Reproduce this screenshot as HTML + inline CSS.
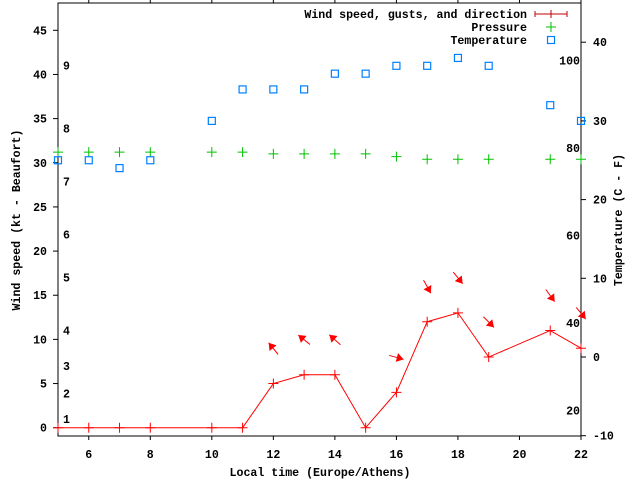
<!DOCTYPE html>
<html><head><meta charset="utf-8"><style>
html,body{margin:0;padding:0;background:#fff;}
svg{display:block;font-family:"Liberation Mono","DejaVu Sans Mono",monospace;font-size:11.6px;font-weight:bold;}
</style></head><body>
<svg id="chart" width="640" height="480" viewBox="0 0 640 480" xmlns="http://www.w3.org/2000/svg">
<rect x="0" y="0" width="640" height="480" fill="#fff"/>
<g id="axes"></g><g id="marks"></g><g id="legend"></g>
</svg>
<script>
const hours = [5,6,7,8,10,11,12,13,14,15,16,17,18,19,21,22];
const windKt = [0,0,0,0,0,0,5,6,6,0,4,12,13,8,11,9];
const windFromDeg = [null,null,null,null,null,null,141,129,132,null,285,331,321,315,324,321];
const pressure = [31.2,31.2,31.2,31.2,31.2,31.2,31.0,31.0,31.0,31.0,30.7,30.4,30.4,30.4,30.4,30.4];
const tempC = [25,25,24,25,30,34,34,34,36,36,37,37,38,37,32,30];
const xTicks = [6,8,10,12,14,16,18,20,22];
const yTicks = [0,5,10,15,20,25,30,35,40,45];
const tTicks = [-10,0,10,20,30,40];
const fTicks = [20,40,60,80,100];
const bftLabels = [1,2,3,4,5,6,7,8,9];
const bftKt = [1,3.9,7,11,17,21.9,27.9,33.9,41];

const NS="http://www.w3.org/2000/svg";
const L=58,R=581,T=3,B=436;
const X=h=>L+(h-5)*(R-L)/17;
const Y=v=>427.7-v*(427.7-30.3)/45;
const TY=c=>357-c*7.87;
const FY=f=>TY((f-32)*5/9);
function mk(tag,attrs,parent,text){const e=document.createElementNS(NS,tag);for(const k in attrs)e.setAttribute(k,attrs[k]);if(text!==undefined)e.textContent=text;parent.appendChild(e);return e;}
const axes=document.getElementById('axes'),marks=document.getElementById('marks'),legend=document.getElementById('legend');

let f=mk('rect',{x:L,y:T,width:R-L,height:B-T,fill:'none',stroke:'#000','stroke-width':1},axes);


xTicks.forEach(h=>{
  mk('line',{x1:X(h),x2:X(h),y1:B,y2:B+4,stroke:'#000'},axes);
  mk('line',{x1:X(h),x2:X(h),y1:T,y2:T-4,stroke:'#000'},axes);
  const t=mk('text',{x:X(h),y:458,'text-anchor':'middle'},axes,String(h));
  
  
});
yTicks.forEach(v=>{
  mk('line',{x1:L-5,x2:L,y1:Y(v),y2:Y(v),stroke:'#000'},axes);
  const t=mk('text',{x:47,y:Y(v)+4,'text-anchor':'end'},axes,String(v));
  
  
});
tTicks.forEach(v=>{
  mk('line',{x1:R,x2:R+5,y1:TY(v),y2:TY(v),stroke:'#000'},axes);
  const t=mk('text',{x:593,y:TY(v)+4,'text-anchor':'start'},axes,String(v));
  
  
});
fTicks.forEach(v=>{
  const t=mk('text',{x:580,y:FY(v)+5,'text-anchor':'end'},axes,String(v));
  
  
});
bftLabels.forEach((b,i)=>{
  const t=mk('text',{x:63,y:Y(bftKt[i])+4},axes,String(b));
  
  
});
let t=mk('text',{x:320,y:476,'text-anchor':'middle'},axes,'Local time (Europe/Athens)');


t=mk('text',{x:0,y:0,'text-anchor':'middle',transform:'translate(20,220) rotate(-90)'},axes,'Wind speed (kt - Beaufort)');


t=mk('text',{x:0,y:0,'text-anchor':'middle',transform:'translate(622,220) rotate(-90)'},axes,'Temperature (C - F)');



const pts=hours.map((h,i)=>X(h)+','+Y(windKt[i])).join(' ');
let pl=mk('polyline',{points:pts,fill:'none',stroke:'#f00','stroke-width':1},marks);


hours.forEach((h,i)=>{
  const x=X(h),y=Y(windKt[i]);
  const p=mk('path',{d:`M${x-5},${y}H${x+5}M${x},${y-5}V${y+5}`,stroke:'#f00'},marks);
  
  
  if(windFromDeg[i]!==null){
    const b=(windFromDeg[i]+180)*Math.PI/180;
    const dx=Math.sin(b),dy=-Math.cos(b);
    const cx=x,cy=y-35,len=15;
    const x1=cx-dx*len/2,y1=cy-dy*len/2,x2=cx+dx*len/2,y2=cy+dy*len/2;
    const g=mk('g',{},marks);
    
    
    mk('line',{x1:x1,y1:y1,x2:x2,y2:y2,stroke:'#f00'},g);
    const px=-dy,py=dx,hl=7,hw=4.5;
    const bx=x2-dx*hl,by=y2-dy*hl;
    mk('polygon',{points:`${x2},${y2} ${bx+px*hw},${by+py*hw} ${bx-px*hw},${by-py*hw}`,fill:'#f00'},g);
  }
});
hours.forEach((h,i)=>{
  const x=X(h),y=Y(pressure[i]);
  const p=mk('path',{d:`M${x-5},${y}H${x+5}M${x},${y-5}V${y+5}`,stroke:'#00c000'},marks);
  
  
});
hours.forEach((h,i)=>{
  const x=X(h),y=TY(tempC[i]);
  const r=mk('rect',{x:x-3.5,y:y-3.5,width:7,height:7,fill:'none',stroke:'#0080ff','stroke-width':1.2},marks);
  
  
});
const lg=[['Wind speed, gusts, and direction',14,'wind'],['Pressure',27,'p'],['Temperature',40,'t']];
lg.forEach(([txt,y,k])=>{
  const g=mk('g',{},legend);
  
  
  mk('text',{x:527,y:y+4,'text-anchor':'end'},g,txt);
  if(k==='wind'){mk('path',{d:`M535,${y}H567M535,${y-3}V${y+3}M567,${y-3}V${y+3}M551,${y-4}V${y+4}`,stroke:'#c00000',fill:'none'},g);}
  else if(k==='p'){mk('path',{d:`M546,${y}H556M551,${y-5}V${y+5}`,stroke:'#00c000'},g);}
  else{mk('rect',{x:547.5,y:y-3.5,width:7,height:7,fill:'none',stroke:'#0080ff','stroke-width':1.2},g);}
});
</script>
</body></html>
